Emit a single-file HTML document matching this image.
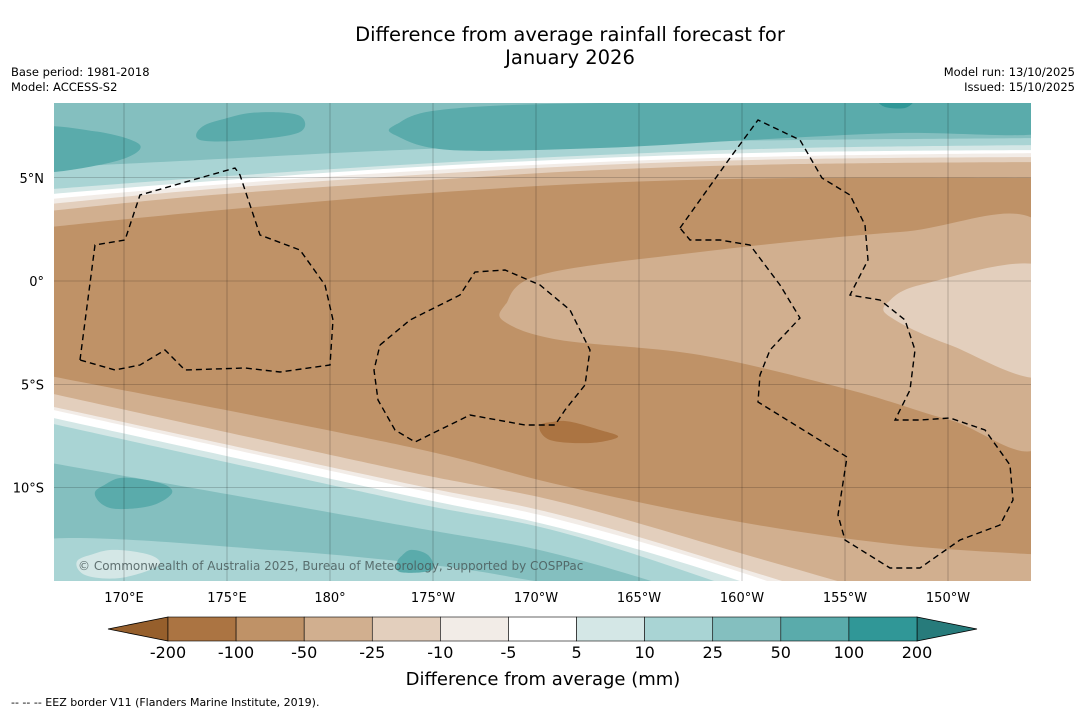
<!DOCTYPE html>
<html><head><meta charset="utf-8"><style>
body{margin:0;background:#fff;width:1085px;height:713px;overflow:hidden;font-family:"Liberation Sans","DejaVu Sans",sans-serif}
svg{position:absolute;left:0;top:0}
</style></head><body>
<svg id="c" width="1085" height="713" xmlns="http://www.w3.org/2000/svg">
<text x="570" y="41" font-size="19.5" text-anchor="middle" font-family="DejaVu Sans, sans-serif">Difference from average rainfall forecast for</text>
<text x="570" y="64" font-size="19.5" text-anchor="middle" font-family="DejaVu Sans, sans-serif">January 2026</text>
<text x="11" y="76" font-size="11.5" font-family="DejaVu Sans, sans-serif">Base period: 1981-2018</text>
<text x="11" y="91" font-size="11.5" font-family="DejaVu Sans, sans-serif">Model: ACCESS-S2</text>
<text x="1075" y="76" font-size="11.5" text-anchor="end" font-family="DejaVu Sans, sans-serif">Model run: 13/10/2025</text>
<text x="1075" y="91" font-size="11.5" text-anchor="end" font-family="DejaVu Sans, sans-serif">Issued: 15/10/2025</text>
<defs><clipPath id="mc"><rect x="54" y="103" width="977" height="478"/></clipPath></defs>
<g id="map" clip-path="url(#mc)"></g>
<g id="axes"></g>
<g id="cbar"></g>
<text x="543" y="685" font-size="18" text-anchor="middle" font-family="DejaVu Sans, sans-serif">Difference from average (mm)</text>
<text x="11" y="706" font-size="11" font-family="DejaVu Sans, sans-serif">--  --  -- EEZ border V11 (Flanders Marine Institute, 2019).</text>
</svg>
<script>
const levels=["-200","-100","-50","-25","-10","-5","5","10","25","50","100","200"];
const colors=["#ab7442","#bf9267","#d1af8f","#e3cfbd","#f2ece7","#ffffff","#d4e7e6","#a9d4d4","#84bfbf","#5aabab","#309797"];
const lonLabels=["170°E","175°E","180°","175°W","170°W","165°W","160°W","155°W","150°W"];
const lonValues=[170,175,180,185,190,195,200,205,210];
const latLabels=["5°N","0°","5°S","10°S"];
const latValues=[5,0,-5,-10];
const NS="http://www.w3.org/2000/svg";
const X=lon=>124+(lon-170)*20.6;
const Y=lat=>281-lat*20.65;
function mk(tag,attrs,parent){const e=document.createElementNS(NS,tag);for(const k in attrs)e.setAttribute(k,attrs[k]);parent.appendChild(e);return e;}
function smooth(pts){let d="M"+pts[0][0]+","+pts[0][1];for(let i=0;i<pts.length-1;i++){const p0=pts[i-1]||pts[i],p1=pts[i],p2=pts[i+1],p3=pts[i+2]||p2;d+=" C"+(p1[0]+(p2[0]-p0[0])/6)+","+(p1[1]+(p2[1]-p0[1])/6)+" "+(p2[0]-(p3[0]-p1[0])/6)+","+(p2[1]-(p3[1]-p1[1])/6)+" "+p2[0]+","+p2[1];}return d;}
const map=document.getElementById('map');
mk('rect',{x:54,y:103,width:977,height:478,fill:colors[1]},map);
const nx=[40,200,400,600,800,1045];
const north=[[2,[228,212,195,183,178,178]],[3,[212,196,182,170,164,162]],[4,[205,190,176,165,159,157]],[5,[200,186,172,162,156,153]],[6,[195,182,168,158,152,150]],[7,[190,178,165,155,148,145]],[8,[168,160,150,143,140,138]]];
north.forEach(([ci,ys])=>{const pts=nx.map((x,i)=>[x,ys[i]]);const p=mk('path',{d:smooth(pts)+" L1045,95 L40,95 Z",fill:colors[ci]},map);

});
function blob(pts,ci,name){const p=mk('path',{d:smooth(pts.concat([pts[0],pts[1]]))+"Z",fill:colors[ci]},map);

}
blob([[40,128],[100,132],[140,145],[120,160],[54,172],[40,165]],9,'north-blob-left');
blob([[205,125],[250,113],[298,115],[300,132],[250,140],[200,140]],9,'north-blob-mid');
blob([[395,125],[440,110],[600,103],[1045,100],[1045,133],[900,133],[750,140],[600,148],[450,150],[395,135]],9,'north-blob-right');
blob([[880,100],[912,100],[905,108],[885,107]],10,'north-peak');
blob([[505,305],[540,275],[700,252],[900,232],[1045,229],[1045,440],[950,420],[850,390],[700,355],[560,340],[505,322]],2,'central-tan-region');
blob([[885,305],[920,285],[1045,268],[1045,375],[950,345],[895,320]],3,'central-light-region');
const sx=[40,400,560,740,900,1045];
const south=[[2,[374,445,485,522,545,555]],[3,[391,470,502,553,600,650]],[4,[404,482,515,568,620,680]],[5,[407,486,520,572,630,690]],[6,[415,494,528,581,640,700]],[7,[421,500,532,590,650,700]],[8,[461,525,555,610,670,700]]];
south.forEach(([ci,ys])=>{const pts=sx.map((x,i)=>[x,ys[i]]);const p=mk('path',{d:smooth(pts)+" L1045,705 L40,705 Z",fill:colors[ci]},map);

});
blob([[40,540],[300,552],[500,575],[560,600],[40,600]],7,'south-bottom-band');
blob([[95,492],[120,478],[160,483],[172,493],[150,506],[110,508]],9,'south-blob-left');
blob([[398,560],[410,550],[428,555],[432,570],[400,572]],9,'south-blob-mid');
blob([[78,560],[110,550],[150,555],[158,566],[120,578],[85,575]],6,'south-blob-light');
blob([[540,425],[565,421],[600,430],[618,437],[590,443],[550,440]],0,'south-dry-peak');
lonValues.forEach(v=>{const l=mk('line',{x1:X(v),x2:X(v),y1:103,y2:581,stroke:"#000","stroke-opacity":0.35,"stroke-width":0.6},map);

});
latValues.forEach(v=>{const l=mk('line',{x1:54,x2:1031,y1:Y(v),y2:Y(v),stroke:"#000","stroke-opacity":0.35,"stroke-width":0.6},map);

});
const eez=[
[[80,360],[95,245],[125,240],[140,195],[175,185],[235,168],[240,175],[260,235],[300,250],[325,285],[333,320],[330,365],[280,372],[245,368],[185,370],[165,350],[140,365],[115,370],[80,360]],
[[380,345],[410,320],[460,295],[475,272],[505,270],[540,285],[570,310],[590,350],[585,385],[565,410],[555,425],[525,425],[470,415],[415,442],[395,430],[378,400],[374,370],[380,345]],
[[680,228],[700,200],[730,158],[758,120],[800,140],[822,178],[850,195],[865,225],[868,260],[850,295],[880,300],[905,320],[915,350],[910,390],[895,420],[920,420],[950,418],[985,430],[1010,465],[1013,500],[1000,525],[960,540],[920,568],[890,568],[845,540],[838,515],[847,457],[758,402],[760,375],[770,350],[800,318],[780,285],[750,245],[720,240],[690,240],[680,228]]];
eez.forEach(pts=>{const p=mk('polyline',{points:pts.map(p=>p.join(',')).join(' '),fill:"none",stroke:"#000","stroke-width":1.4,"stroke-dasharray":"6,4"},map);

});
const cp=mk('text',{x:78,y:570,"font-size":12,fill:"#4a5a5a","font-family":"DejaVu Sans, sans-serif","fill-opacity":0.85},map);cp.textContent="© Commonwealth of Australia 2025, Bureau of Meteorology, supported by COSPPac";


const ax=document.getElementById('axes');
lonLabels.forEach((t,i)=>{const e=mk('text',{x:X(lonValues[i]),y:602,"font-size":13,"text-anchor":"middle","font-family":"DejaVu Sans, sans-serif"},ax);e.textContent=t;

});
latLabels.forEach((t,i)=>{const e=mk('text',{x:44,y:Y(latValues[i])+5,"font-size":13,"text-anchor":"end","font-family":"DejaVu Sans, sans-serif"},ax);e.textContent=t;

});
const cb=document.getElementById('cbar');
const x0=168,x1=917,w=(x1-x0)/11,y0=617,h=24;
const lt=mk('path',{d:`M${x0},${y0} L108,${y0+h/2} L${x0},${y0+h} Z`,fill:"#965f2c",stroke:"#000","stroke-width":0.8},cb);


const rt=mk('path',{d:`M${x1},${y0} L977,${y0+h/2} L${x1},${y0+h} Z`,fill:"#277b7b",stroke:"#000","stroke-width":0.8},cb);


colors.forEach((c,i)=>{const r=mk('rect',{x:x0+i*w,y:y0,width:w,height:h,fill:c,stroke:"#000","stroke-width":0.6},cb);

});
levels.forEach((t,i)=>{const e=mk('text',{x:x0+i*w,y:658,"font-size":16,"text-anchor":"middle","font-family":"DejaVu Sans, sans-serif"},cb);e.textContent=t;

});
</script>
</body></html>
